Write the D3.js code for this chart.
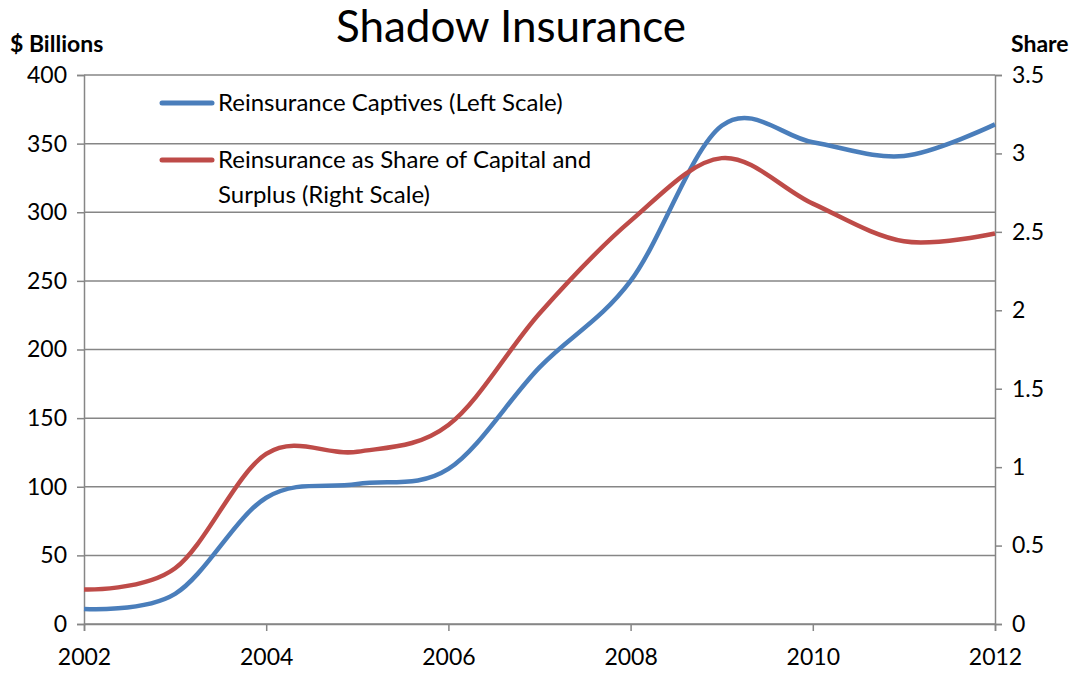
<!DOCTYPE html>
<html><head><meta charset="utf-8">
<script src="https://cdn.jsdelivr.net/npm/d3@7"></script>
<style>body{margin:0;background:#fff;} text{font-family:Lato,"Open Sans",sans-serif;}</style>
</head><body>
<svg id="c" width="1081" height="673"></svg>
<script>
const years = [2002,2003,2004,2005,2006,2007,2008,2009,2010,2011,2012];
const captives = [11,22,92,102,113,187,250,363,351,341,364];
const shareOfCapital = [0.22,0.355,1.084,1.098,1.269,1.98,2.57,2.97,2.68,2.44,2.49];
const leftTicks = [0,50,100,150,200,250,300,350,400];
const rightTicks = [0,0.5,1,1.5,2,2.5,3,3.5];
const xTicks = [2002,2004,2006,2008,2010,2012];
const seriesNames = ["Reinsurance Captives (Left Scale)", "Reinsurance as Share of Capital and|Surplus (Right Scale)"];

const svg = d3.select("#c");
const L=84, R=995, T=75, B=624;
const x = d3.scaleLinear().domain([2002,2012]).range([L,R]);
const yL = d3.scaleLinear().domain([0,400]).range([B,T]);
const yR = d3.scaleLinear().domain([0,3.5]).range([B,T]);
const grid="#868686";

svg.append("g").selectAll("line").data(leftTicks).join("line")
  .attr("x1",L).attr("x2",R).attr("y1",d=>yL(d)).attr("y2",d=>yL(d))
  .attr("stroke",grid).attr("stroke-width",1.5);

const ga = svg.append("g").attr("transform",`translate(${L},0)`)
  .call(d3.axisLeft(yL).tickValues(leftTicks).tickSize(7).tickPadding(10).tickFormat(d3.format("d")));
const gr = svg.append("g").attr("transform",`translate(${R},0)`)
  .call(d3.axisRight(yR).tickValues(rightTicks).tickSize(7).tickPadding(10).tickFormat(d=>String(d)));
const gb = svg.append("g").attr("transform",`translate(0,${B})`)
  .call(d3.axisBottom(x).tickValues(xTicks).tickSize(7).tickPadding(18).tickFormat(d3.format("d")));
[ga,gr,gb].forEach(g=>{
  g.selectAll("path").attr("stroke",grid).attr("stroke-width",1.5);
  g.selectAll("line").attr("stroke",grid).attr("stroke-width",1.5);
  g.selectAll("text").attr("font-size",23).attr("fill","#000").style("font-family","Lato, 'Open Sans', sans-serif");
});

const line1 = d3.line().x((d,i)=>x(years[i])).y(d=>yL(d)).curve(d3.curveCardinal.tension(0));
const line2 = d3.line().x((d,i)=>x(years[i])).y(d=>yR(d)).curve(d3.curveCardinal.tension(0));
svg.append("path").attr("d",line1(captives)).attr("fill","none").attr("stroke","#4A7EBB").attr("stroke-width",4.5);
svg.append("path").attr("d",line2(shareOfCapital)).attr("fill","none").attr("stroke","#BE4B48").attr("stroke-width",4.5);

svg.append("text").attr("x",511).attr("y",42).attr("text-anchor","middle").attr("font-size",44).text("Shadow Insurance");
svg.append("text").attr("x",10).attr("y",52).attr("font-size",23).attr("font-weight","bold").text("$ Billions");
svg.append("text").attr("x",1011).attr("y",52).attr("font-size",23).attr("font-weight","bold").text("Share");

const colors=["#4A7EBB","#BE4B48"];
const ly=[103,160];
seriesNames.forEach((n,i)=>{
  svg.append("line").attr("x1",162).attr("x2",212).attr("y1",ly[i]).attr("y2",ly[i])
    .attr("stroke",colors[i]).attr("stroke-width",5).attr("stroke-linecap","round");
  n.split("|").forEach((t,j)=>{
    svg.append("text").attr("x",218).attr("y",ly[i]+8+j*35).attr("font-size",24).text(t);
  });
});
</script>
</body></html>
